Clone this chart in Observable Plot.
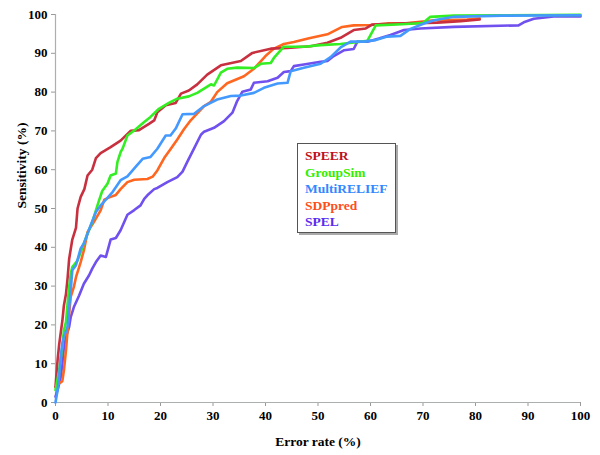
<!DOCTYPE html>
<html>
<head>
<meta charset="utf-8">
<script src="https://cdn.jsdelivr.net/npm/d3@7"></script>
<script src="https://cdn.jsdelivr.net/npm/@observablehq/plot@0.6"></script>
<style>
  html, body { margin: 0; padding: 0; background: white; }
  #wrap { position: relative; width: 600px; height: 455px; }
  #legend {
    position: absolute; left: 297px; top: 143px; width: 90px; height: 84px;
    border: 1.5px solid #555; box-shadow: 2px 2px 0 #aaa; background: white;
    font-family: "Liberation Serif", Tinos, "Times New Roman", "DejaVu Serif", serif; font-weight: bold;
    font-size: 13.5px; line-height: 16.6px; padding: 4px 0 0 7px; box-sizing: content-box;
  }
</style>
</head>
<body>
<div id="wrap"><div id="chart"></div><div id="legend"></div></div>
<script>
const xTicks = [0, 10, 20, 30, 40, 50, 60, 70, 80, 90, 100];
const yTicks = [0, 10, 20, 30, 40, 50, 60, 70, 80, 90, 100];
const seriesNames = ["SPEER", "GroupSim", "MultiRELIEF", "SDPpred", "SPEL"];
const lineColors = ["#c8303f", "#33ee22", "#4499ff", "#ff6620", "#7050ee"];
const legendColors = ["#c01020", "#33ee00", "#3388ff", "#ff4d1a", "#5a2bf0"];

const speer = [[0,4],[0.4,11],[0.7,15],[1.3,21],[1.6,25],[2,28],[2.3,32],[2.6,37],[3.2,42],[3.9,45],[4.2,50],[4.8,53],[5.5,55],[6.1,58.5],[7,60],[7.7,63],[8.6,64.3],[10.5,65.8],[12.4,67.5],[14.3,70],[15.9,70.2],[17.8,71.8],[18.8,72.7],[19.4,74.8],[21,76.6],[22.9,77.2],[23.9,79.6],[25.4,80.4],[27,82],[28.9,84.5],[31.5,86.9],[35.3,88],[37.5,90.1],[41,91.2],[44.2,91.4],[48.6,91.8],[51.8,92.7],[54.3,94],[56.8,96],[59.1,96.4],[60.3,97.4],[66.4,97.7],[72.7,97.9],[77.2,98.3],[80.8,98.7]];
const groupSim = [[0,3.2],[0.7,8.3],[1.3,14.3],[1.6,18.6],[2,20.8],[2.3,25.5],[2.6,29.8],[2.9,33.2],[3.2,34.9],[4.2,36.6],[4.8,38.8],[5.4,41],[6.1,43.5],[7,46.5],[7.7,49.5],[8.3,52.1],[8.9,54.5],[9.9,56.4],[10.5,58.5],[11.5,59],[11.8,62],[12.4,64.5],[12.8,65.5],[13.7,68.8],[15,70.1],[16.9,72.3],[18.1,73.6],[19.7,75.7],[21.6,77.2],[23.2,78.3],[25.4,78.9],[27,79.8],[28.3,80.9],[29.6,82],[30.2,81.7],[31.5,85],[32.7,86],[34.6,86.3],[37.8,86.2],[39.1,87.3],[41,87.5],[41.6,88.8],[43.5,91.7],[47.3,91.7],[50.5,92.1],[54.3,92.4],[59.4,93.2],[61,97.2],[66,97.5],[70,97.8],[71.4,99.4],[75.9,99.7],[85,99.8],[100,99.9]];
const multiRelief = [[0,0],[0.4,3.2],[0.7,6.6],[1,11.7],[1.3,15.2],[1.6,16.9],[2.3,19.5],[2.6,24.6],[2.9,28.9],[3.2,34.1],[3.9,35.4],[4.8,39.7],[5.4,41],[6.1,43.5],[6.7,45.7],[7.7,49.1],[8.6,50.8],[9.6,52.3],[10.9,54.3],[12.4,57.3],[13.7,58.3],[15.3,60.8],[16.6,62.8],[18.1,63.3],[19.4,65.4],[21,68.8],[21.9,68.8],[22.9,70.6],[24.2,74.3],[26.4,74.4],[28.3,76.4],[30.8,78.1],[33.4,79],[35.3,79.1],[37.8,79.8],[39.7,81.1],[42.3,82.2],[44.2,82.4],[44.8,85.4],[47.3,86.3],[50.5,87.3],[52.4,89],[54.3,91.5],[56.2,93],[58.7,93],[61,93.4],[63.2,94.3],[65.7,94.5],[67.6,96.3],[70.2,97.7],[72.1,98.5],[75.9,99.4],[85,99.7],[100,99.8]];
const sdpPred = [[0,4],[0.7,4.9],[1.3,5.5],[1.6,8.3],[2,13.5],[2.3,18.6],[2.6,22.9],[2.9,27.2],[3.5,29.8],[3.9,32.3],[4.5,34.9],[4.8,36.2],[5.4,39.2],[5.8,41.8],[6.1,43.9],[7.3,46.5],[8.6,49.5],[9.3,52.3],[10.5,53],[11.5,53.5],[12.4,55],[13.7,56.8],[15,57.4],[17.5,57.6],[18.5,58.2],[19.4,59.8],[20.7,63],[21.9,65.3],[23.2,67.8],[24.5,70.5],[25.8,72.8],[28.3,76.4],[29.6,77.5],[30.8,80],[32.7,82.3],[35.9,84.1],[37.8,86],[40,89.3],[41.6,91.2],[43.5,92.4],[45.4,92.9],[48.3,93.9],[51.8,94.9],[54.6,96.8],[56.8,97.2],[60,97.3],[63.2,97.7],[66.4,97.7],[72.1,98.5],[78.4,98.7],[80.8,99]];
const spel = [[0,1.5],[0.4,3.2],[1,6.6],[1.3,10],[1.6,14.3],[2,16.9],[2.6,19.5],[2.9,22],[3.5,24.6],[4.5,27.6],[5.4,30.6],[6.4,32.8],[7,34.5],[7.7,36.2],[8.6,37.9],[9.6,37.5],[10.5,42],[11.5,42.4],[12.4,44.4],[13.7,48.4],[15,49.6],[16.2,50.8],[16.9,52.5],[17.5,53.4],[18.8,55],[19.4,55.3],[21.3,56.8],[23.2,58.1],[24.2,59.5],[25.1,62],[26.4,65.5],[27.7,69],[28.3,69.8],[30.2,70.8],[32.1,72.5],[33.7,74.7],[34.6,77.7],[35.6,80.1],[37.2,80.7],[37.8,82.4],[40.4,82.8],[42.3,83.7],[43.5,85.2],[44.8,85.4],[45.4,86.7],[47.3,87.1],[50.5,87.8],[51.8,88],[53,89.3],[55,90.8],[56.8,91.1],[57.5,93],[59.4,93],[61.6,93.8],[63.8,94.7],[66.4,96],[69.5,96.4],[75.9,96.8],[88.2,97.2],[89.2,98],[91.1,98.9],[94.9,99.5],[100,99.5]];

const seriesData = [speer, groupSim, multiRelief, sdpPred, spel];
const drawOrder = [4, 3, 0, 1, 2];

const font = "Liberation Serif, Tinos, Times New Roman, DejaVu Serif, serif";
const lineMarks = drawOrder.map(i => Plot.line(seriesData[i], {
  x: d => d[0], y: d => d[1], stroke: lineColors[i], strokeWidth: 2.6,
  strokeLinejoin: "round", strokeLinecap: "round"
}));

const chart = Plot.plot({
  width: 600, height: 455,
  marginLeft: 55, marginRight: 20, marginTop: 14, marginBottom: 53,
  x: {domain: [0, 100]},
  y: {domain: [0, 100]},
  style: {background: "white", color: "black"},
  marks: [
    Plot.axisX({ticks: xTicks, tickSize: 4, tickPadding: 4, fontSize: 13, fontWeight: "bold", fontFamily: font, stroke: "#999", label: null}),
    Plot.axisY({ticks: yTicks, tickSize: 4, tickPadding: 4, fontSize: 13, fontWeight: "bold", fontFamily: font, stroke: "#999", label: null}),
    Plot.ruleY([0], {stroke: "#aab0b0", strokeWidth: 1.2}),
    Plot.ruleX([0], {stroke: "#aab0b0", strokeWidth: 1.2}),
    ...lineMarks,
    Plot.text(["Error rate (%)"], {frameAnchor: "bottom", dy: 43, text: d => d, fontSize: 13.5, fontWeight: "bold", fontFamily: font, fill: "black"}),
    Plot.text(["Sensitivity (%)"], {frameAnchor: "left", dx: -34, rotate: -90, text: d => d, fontSize: 13.5, fontWeight: "bold", fontFamily: font, fill: "black"})
  ]
});
document.getElementById("chart").appendChild(chart);

const legend = d3.select("#legend");
seriesNames.forEach((n, i) => {
  legend.append("div").style("color", legendColors[i]).text(n);
});
</script>
</body>
</html>
